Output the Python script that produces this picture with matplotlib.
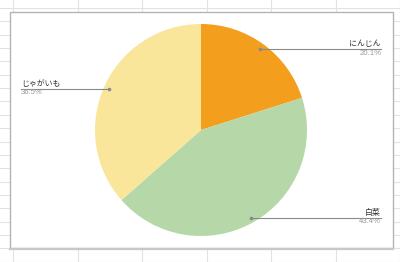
import numpy as np
import matplotlib
matplotlib.use("Agg")
from matplotlib import pyplot as plt
from matplotlib.patches import Rectangle

labels = ["にんじん", "白菜", "じゃがいも"]
shares = [20.1, 43.4, 36.5]
colors = ["#f49e1e", "#b6d7a8", "#f9e69b"]

W, H = 400, 262
fig = plt.figure(figsize=(4, 2.62), dpi=100)
ax = fig.add_axes([0, 0, 1, 1])

# spreadsheet grid behind the chart
for x in np.arange(13, W + 1, 64.5):
    ax.plot([x, x], [0, H], color="#e2e2e2", lw=0.8, zorder=0)
for y in np.arange(8, H, 13.35):
    ax.plot([0, W], [H - y, H - y], color="#e2e2e2", lw=0.8, zorder=0)

# chart box
ax.add_patch(Rectangle((9.5, H - 248), 383.5, 236.5, facecolor="white",
                       edgecolor="#b4b4b4", lw=1.0, zorder=1))
ax.plot([9.5, 393], [H - 248.5, H - 248.5], color="#c8c8c8", lw=1.6, zorder=1)

cx, cy, r = 201, H - 130, 106
wedges, _ = ax.pie(shares, colors=colors, startangle=90, counterclock=False,
                   center=(cx, cy), radius=r, frame=True,
                   wedgeprops=dict(linewidth=0, zorder=2))

font = ["Noto Sans CJK JP", "DejaVu Sans"]
num_font = ["Liberation Sans", "DejaVu Sans"]
# where each label line ends (px) and which side it sits on
ends = [(381, "right"), (381, "right"), (21, "left")]
start = 90.0
for lab, val, (xe, ha), w in zip(labels, shares, ends, wedges):
    mid = np.deg2rad(start - val * 3.6 / 2)
    start -= val * 3.6
    px = cx + 0.95 * r * np.cos(mid)
    py = cy + 0.95 * r * np.sin(mid)
    ax.plot([px, xe], [py, py], color="#8a8a8a", lw=0.8, zorder=3)
    ax.plot([px], [py], "o", ms=1.6, color="#8a8a8a", zorder=3)
    ax.text(xe, py + 0.8, lab, ha=ha, va="bottom", fontsize=5.7,
            color="#333333", family=font, zorder=4)
    ax.text(xe, py - 0.8, f"{val}%", ha=ha, va="top", fontsize=5.6,
            color="#999999", family=num_font, zorder=4)

ax.set_xlim(0, W)
ax.set_ylim(0, H)
ax.set_aspect("auto")
ax.axis("off")
fig.savefig("out.png", dpi=100)
